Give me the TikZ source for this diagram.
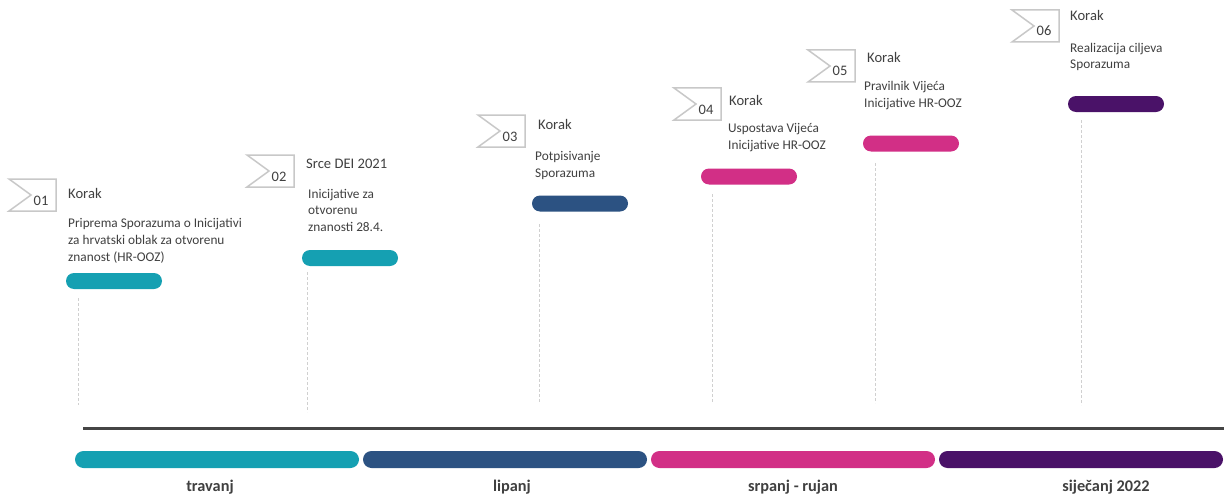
\documentclass[tikz,border=0pt]{standalone}
\usepackage{fontspec}
\setmainfont{Carlito}
\definecolor{cteal}{HTML}{15A0B2}
\definecolor{cblue}{HTML}{2C5282}
\definecolor{cmag}{HTML}{D22F86}
\definecolor{cpurp}{HTML}{4A1268}
\definecolor{ctext}{HTML}{404040}
\definecolor{cflag}{HTML}{C8C8C8}
\definecolor{cguide}{HTML}{D0D0D0}
\definecolor{caxis}{HTML}{454545}
\newcommand\stepflag[4]{%
  \draw[flagline] (#1,#2) -- ++(47,0) -- ++(0,32) -- ++(-47,0) -- ++(22,-16) -- cycle;
  \node[numtxt, anchor=base] (#4) at (#1+32,#2+26) {#3};}
\begin{document}
\begin{tikzpicture}[x=1pt,y=-1pt,
  flagline/.style={draw=cflag, line width=1.5pt, line join=miter},
  numtxt/.style={inner sep=0pt, text=ctext, font=\fontsize{14.5}{16}\selectfont},
  titletxt/.style={inner sep=0pt, text=ctext, anchor=base west, font=\fontsize{14.6}{17}\selectfont},
  desctxt/.style={inner sep=0pt, text=ctext, anchor=base west, align=left, font=\fontsize{13.3}{16.5}\selectfont},
  pill/.style={draw=none, inner sep=0pt, minimum width=96pt, minimum height=16pt, rounded corners=8pt},
  monthbar/.style={draw=none, inner sep=0pt, minimum width=284pt, minimum height=17pt, rounded corners=8.5pt},
  monthtxt/.style={inner sep=0pt, text=ctext, anchor=base, font=\fontsize{16.3}{18}\selectfont\bfseries},
  guide/.style={draw=cguide, line width=0.9pt, dash pattern=on 3pt off 2pt},
  axis/.style={draw=caxis, line width=3pt}]
\useasboundingbox (0,0) rectangle (1224,495);
\fill[white] (0,0) rectangle (1224,495);

% flags
\stepflag{9}{179}{01}{n1}
\stepflag{247}{155}{02}{n2}
\stepflag{478}{115}{03}{n3}
\stepflag{674}{88}{04}{n4}
\stepflag{808}{50}{05}{n5}
\stepflag{1012}{10}{06}{n6}

% titles
\node[titletxt] (t1) at (68,198) {Korak};
\node[titletxt] (t2) at (306,168) {Srce DEI 2021};
\node[titletxt] (t3) at (538,129) {Korak};
\node[titletxt] (t4) at (729,105) {Korak};
\node[titletxt] (t5) at (867,63) {Korak};
\node[titletxt] (t6) at (1070,21) {Korak};

% descriptions (anchor = baseline of last line)
\node[desctxt, font=\fontsize{13.3}{17}\selectfont] (d1) at (68,261) {Priprema Sporazuma o Inicijativi\\za hrvatski oblak za otvorenu\\znanost (HR-OOZ)};
\node[desctxt] (d2) at (308,231) {Inicijative za\\otvorenu\\znanosti 28.4.};
\node[desctxt, font=\fontsize{13.3}{17}\selectfont] (d3) at (535,177) {Potpisivanje\\Sporazuma};
\node[desctxt] (d4) at (728,149) {Uspostava Vijeća\\Inicijative HR-OOZ};
\node[desctxt] (d5) at (864,107) {Pravilnik Vijeća\\Inicijative HR-OOZ};
\node[desctxt] (d6) at (1070,69) {Realizacija ciljeva\\Sporazuma};

% step bars
\node[pill, fill=cteal] (b1) at (114,281) {};
\node[pill, fill=cteal] (b2) at (350,258) {};
\node[pill, fill=cblue] (b3) at (580,203.5) {};
\node[pill, fill=cmag] (b4) at (749,176.5) {};
\node[pill, fill=cmag] (b5) at (911,143.5) {};
\node[pill, fill=cpurp] (b6) at (1116,104) {};

% guides
\coordinate (g1a) at (78,298);   \coordinate (g1b) at (78,405);
\coordinate (g2a) at (307,272);  \coordinate (g2b) at (307,412);
\coordinate (g3a) at (539,224);  \coordinate (g3b) at (539,402);
\coordinate (g4a) at (712,194);  \coordinate (g4b) at (712,403);
\coordinate (g5a) at (875,163);  \coordinate (g5b) at (875,403);
\coordinate (g6a) at (1081,120); \coordinate (g6b) at (1081,405);
\draw[guide] (g1a) -- (g1b);
\draw[guide] (g2a) -- (g2b);
\draw[guide] (g3a) -- (g3b);
\draw[guide] (g4a) -- (g4b);
\draw[guide] (g5a) -- (g5b);
\draw[guide] (g6a) -- (g6b);

% axis
\coordinate (ax1) at (83,428);
\coordinate (ax2) at (1224,428);
\draw[axis] (ax1) -- (ax2);

% month bars
\node[monthbar, fill=cteal] (m1) at (217,459.5) {};
\node[monthbar, fill=cblue] (m2) at (505,459.5) {};
\node[monthbar, fill=cmag] (m3) at (793,459.5) {};
\node[monthbar, fill=cpurp] (m4) at (1081,459.5) {};

% month labels
\node[monthtxt] (l1) at (210,491) {travanj};
\node[monthtxt] (l2) at (512,491) {lipanj};
\node[monthtxt] (l3) at (793,491) {srpanj - rujan};
\node[monthtxt] (l4) at (1106,491) {siječanj 2022};
\end{tikzpicture}
\end{document}
